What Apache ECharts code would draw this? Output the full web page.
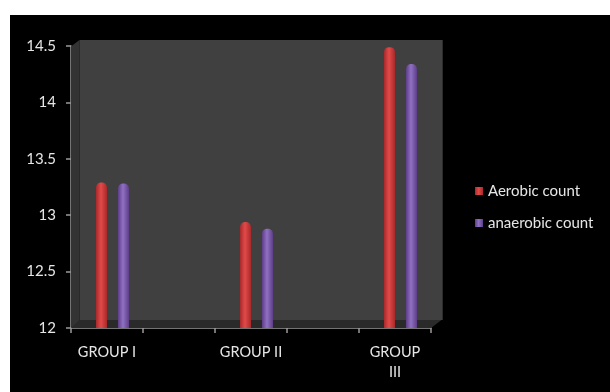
<!DOCTYPE html>
<html>
<head>
<meta charset="utf-8">
<script src="https://cdn.jsdelivr.net/npm/echarts@6/dist/echarts.min.js"></script>
<style>
  html, body { margin: 0; padding: 0; background: #ffffff; }
  #chart { position: absolute; left: 10px; top: 15px; width: 600px; height: 377px; }
</style>
</head>
<body>
<div id="chart"></div>
<script>
// Groups (blank slots keep the spacing between the groups)
const categories = ['GROUP I', '', 'GROUP II', '', 'GROUP\nIII'];
const aerobicCount = [13.29, null, 12.94, null, 14.49];
const anaerobicCount = [13.28, null, 12.88, null, 14.34];
const yMin = 12, yMax = 14.5, yStep = 0.5;

// Plot frame (front axis plane) and the depth offset of the back wall
const plot = { left: 61, top: 31, width: 360, height: 282 };
const depth = { dx: 8.5, dy: 7 };
const barShift = 5.5;

const FONT = 'Lato, "Open Sans", sans-serif';
const textColor = '#e6e6e6';

function cylinder(edge, mid) {
  return new echarts.graphic.LinearGradient(0, 0, 1, 0, [
    { offset: 0, color: edge },
    { offset: 0.45, color: mid },
    { offset: 1, color: edge }
  ]);
}

const x0 = plot.left, x1 = plot.left + plot.width;
const y0 = plot.top, y1 = plot.top + plot.height;

const chart = echarts.init(document.getElementById('chart'));
chart.setOption({
  backgroundColor: '#000000',
  animation: false,
  textStyle: { fontFamily: FONT },
  grid: [
    // front axes
    { left: plot.left, top: plot.top, width: plot.width, height: plot.height, z: 3 },
    // back wall
    { left: plot.left + depth.dx, top: plot.top - depth.dy + 1, width: plot.width + depth.dx * 0.2 + 1.5,
      height: plot.height - 2, show: true, backgroundColor: '#404040', borderWidth: 0, z: 0 },
    // bar plane (mid-depth)
    { left: plot.left + barShift, top: plot.top, width: plot.width, height: plot.height, z: 2 }
  ],
  graphic: [
    { // left side wall
      type: 'polygon', z: 1, silent: true,
      shape: { points: [[x0, y0 + 0.5], [x0 + depth.dx, y0 - depth.dy + 1], [x0 + depth.dx, y1 - depth.dy + 1], [x0, y1]] },
      style: { fill: '#333333' }
    },
    { // floor
      type: 'polygon', z: 1, silent: true,
      shape: { points: [[x0, y1], [x1, y1], [x1 + depth.dx + 2, y1 - depth.dy - 1], [x0 + depth.dx, y1 - depth.dy - 1]] },
      style: { fill: '#2a2a2a' }
    }
  ],
  legend: {
    orient: 'vertical',
    left: 460,
    top: 163,
    icon: 'rect',
    itemWidth: 8,
    itemHeight: 8,
    itemGap: 16,
    textStyle: { color: textColor, fontSize: 15, fontFamily: FONT, lineHeight: 16 },
    data: ['Aerobic count', 'anaerobic count']
  },
  xAxis: [
    {
      gridIndex: 0, type: 'category', data: categories,
      axisLine: { lineStyle: { color: '#9a9a9a', width: 1.5 } },
      axisTick: { show: true, length: 5, lineStyle: { color: '#9a9a9a', width: 1.5 } },
      axisLabel: { color: textColor, fontSize: 14.5, fontFamily: FONT, margin: 14, lineHeight: 20, interval: 0 }
    },
    { gridIndex: 1, type: 'category', data: categories, show: false },
    { gridIndex: 2, type: 'category', data: categories, show: false }
  ],
  yAxis: [
    {
      gridIndex: 0, type: 'value', min: yMin, max: yMax, interval: yStep,
      axisLine: { show: true, lineStyle: { color: '#9a9a9a', width: 1.5 } },
      axisTick: { show: true, length: 5, lineStyle: { color: '#9a9a9a', width: 1.5 } },
      splitLine: { show: false },
      axisLabel: { color: textColor, fontSize: 15, fontFamily: FONT, margin: 15 }
    },
    { gridIndex: 1, type: 'value', min: yMin, max: yMax, show: false, splitLine: { show: false } },
    { gridIndex: 2, type: 'value', min: yMin, max: yMax, show: false, splitLine: { show: false } }
  ],
  series: [
    {
      name: 'Aerobic count', type: 'bar', xAxisIndex: 2, yAxisIndex: 2,
      data: aerobicCount, barWidth: 11, barGap: '100%',
      itemStyle: { color: cylinder('#a8292b', '#e24a48'), borderRadius: [5, 5, 0, 0] }
    },
    {
      name: 'anaerobic count', type: 'bar', xAxisIndex: 2, yAxisIndex: 2,
      data: anaerobicCount, barWidth: 11,
      itemStyle: { color: cylinder('#5e3e88', '#9070c2'), borderRadius: [5, 5, 0, 0] }
    }
  ]
});
</script>
</body>
</html>
